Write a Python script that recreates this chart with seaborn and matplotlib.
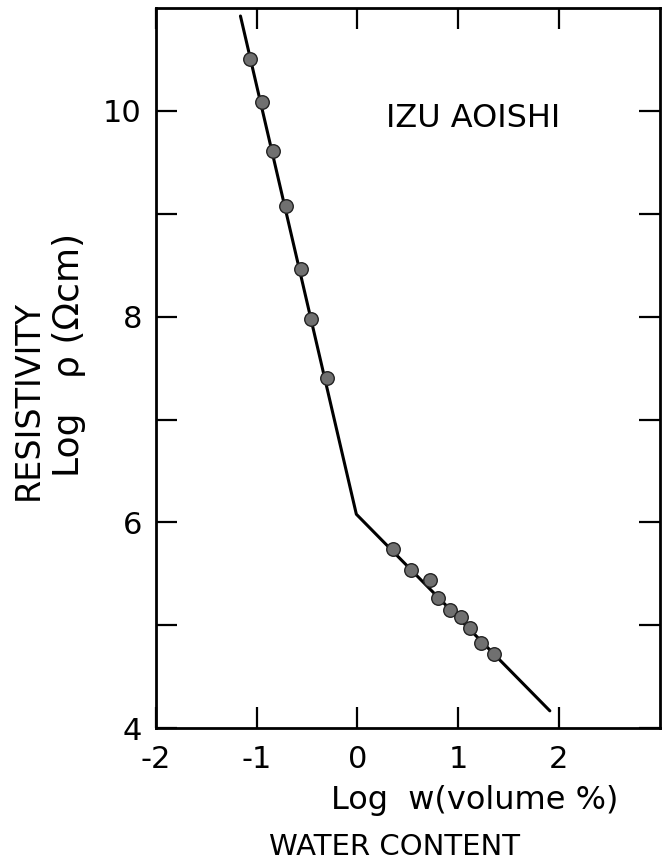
import numpy as np
import pandas as pd
import matplotlib
matplotlib.use("Agg")
import matplotlib.pyplot as plt
import seaborn as sns

# measured points (log water content, log resistivity)
log_w = [-1.07, -0.95, -0.84, -0.71, -0.56, -0.46, -0.30,
         0.35, 0.53, 0.72, 0.80, 0.92, 1.03, 1.12, 1.23, 1.36]
log_rho = [10.50, 10.08, 9.61, 9.07, 8.46, 7.98, 7.40,
           5.74, 5.54, 5.44, 5.27, 5.15, 5.08, 4.97, 4.83, 4.72]

# fitted broken line
fit_w = [-1.16, -0.01, 1.91]
fit_rho = [10.92, 6.08, 4.17]

x_ticks = [-2, -1, 0, 1, 2]
y_ticks = [4, 5, 6, 7, 8, 9, 10]
y_tick_labels = ["4", "", "6", "", "8", "", "10"]

pts = pd.DataFrame({"w": log_w, "rho": log_rho})
fit = pd.DataFrame({"w": fit_w, "rho": fit_rho})

sns.set_style("ticks")
plt.rcParams["font.family"] = ["DejaVu Sans"]
plt.rcParams["axes.unicode_minus"] = False
plt.rcParams["text.color"] = "black"

fig = plt.figure(figsize=(6.63, 8.65), dpi=100)
ax = fig.add_axes([0.235, 0.158, 0.76, 0.833])

sns.lineplot(data=fit, x="w", y="rho", sort=False, estimator=None,
             color="black", linewidth=2.2, ax=ax)
sns.scatterplot(data=pts, x="w", y="rho", s=95, color="#707070",
                edgecolor="#222222", linewidth=1.0, zorder=3, ax=ax)

ax.set_xlim(-2, 3)
ax.set_ylim(4, 11)
ax.set_xticks(x_ticks)
ax.set_yticks(y_ticks)
ax.set_yticklabels(y_tick_labels)
ax.tick_params(direction="in", length=15, width=1.6, labelsize=22,
               top=True, right=True, colors="black")
ax.tick_params(axis="x", pad=12)
ax.tick_params(axis="y", pad=10)
for s in ax.spines.values():
    s.set_linewidth(2.0)
    s.set_color("black")
ax.set_xlabel("")
ax.set_ylabel("")

ax.text(1.15, 9.92, "IZU AOISHI", fontsize=23, ha="center", va="center")

fig.text(0.716, 0.075, "Log  w(volume %)", fontsize=23, ha="center", va="center")
fig.text(0.595, 0.021, "WATER CONTENT", fontsize=21, ha="center", va="center")
fig.text(0.042, 0.538, "RESISTIVITY", fontsize=24, rotation=90,
         ha="center", va="center")
fig.text(0.104, 0.590, "Log   ρ (Ωcm)", fontsize=26, rotation=90,
         ha="center", va="center")

fig.savefig("out.png", dpi=100)
